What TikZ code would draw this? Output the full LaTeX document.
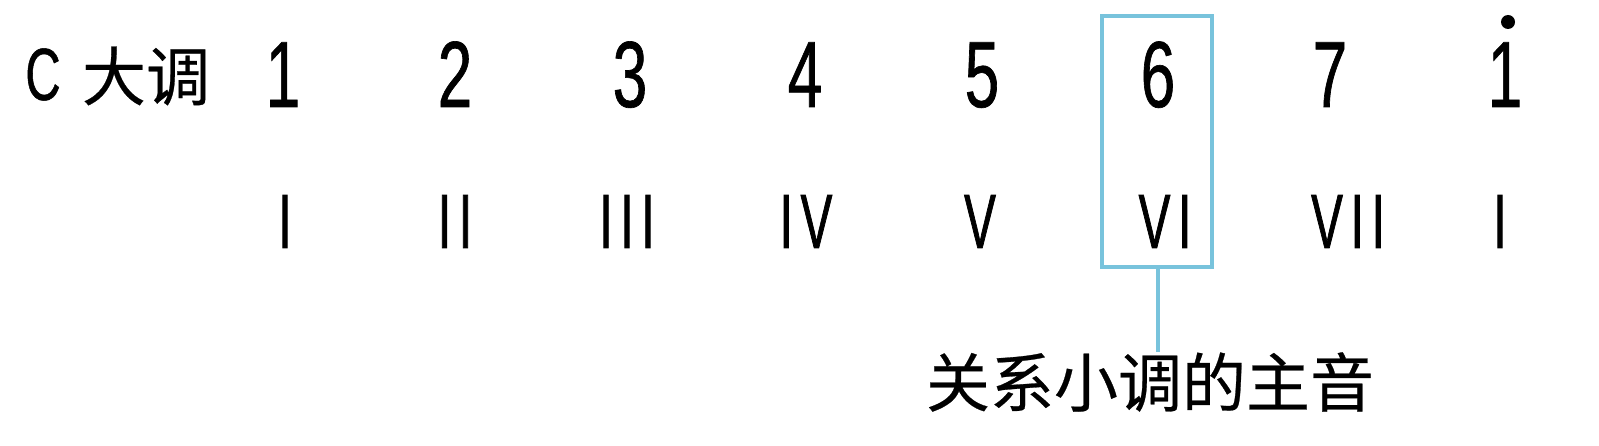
\documentclass[tikz,border=0pt]{standalone}
\usepackage{fontspec}
\setmainfont{Liberation Sans}
\newfontfamily\cjk[FakeBold=0.4]{Noto Sans CJK SC}
\newfontfamily\narrowD[FakeStretch=0.66,FakeBold=0.7]{Liberation Sans}
\newfontfamily\narrowR[FakeStretch=0.62,LetterSpace=10,FakeBold=0.9]{Liberation Sans}
\definecolor{boxblue}{RGB}{120,195,220}
\begin{document}
\begin{tikzpicture}[x=1pt,y=-1pt,
  deg/.style={inner sep=0pt,anchor=base,font=\narrowD\fontsize{94}{94}\selectfont},
  rom/.style={inner sep=0pt,anchor=base,font=\narrowR\fontsize{77}{77}\selectfont},
  cjkt/.style={inner sep=0pt,anchor=center,font=\cjk\fontsize{64}{64}\selectfont},
  hl/.style={draw=boxblue,line width=4pt}]
\useasboundingbox (0,0) rectangle (1599,446);
\node[inner sep=0pt,anchor=base,font=\narrowD\fontsize{74}{74}\selectfont] (c) at (43,100) {C};
\node[cjkt] (key) at (146,76) {大调};
\foreach \n/\x/\t in {d1/283/1,d2/455/2,d3/630/3,d4/805/4,d5/982/5,d6/1158/6,d7/1330/7,d8/1505/1}
  \node[deg] (\n) at (\x,107) {\t};
\fill (1508,22) circle (7);
\foreach \n/\x/\t in {r1/285/I,r2/455/II,r3/627/III,r4/806/IV,r5/980/V,r6/1165/VI,r7/1348/VII,r8/1500/I}
  \node[rom] (\n) at (\x,248) {\t};
\node[hl,inner sep=0pt,minimum width=110pt,minimum height=251pt,anchor=north west] (box) at (1100,14) {};
\node[cjkt] (lab) at (1150,382) {关系小调的主音};
\draw[boxblue,line width=4pt] (box.south -| 1158,0) -- (1158,352);
\end{tikzpicture}
\end{document}
